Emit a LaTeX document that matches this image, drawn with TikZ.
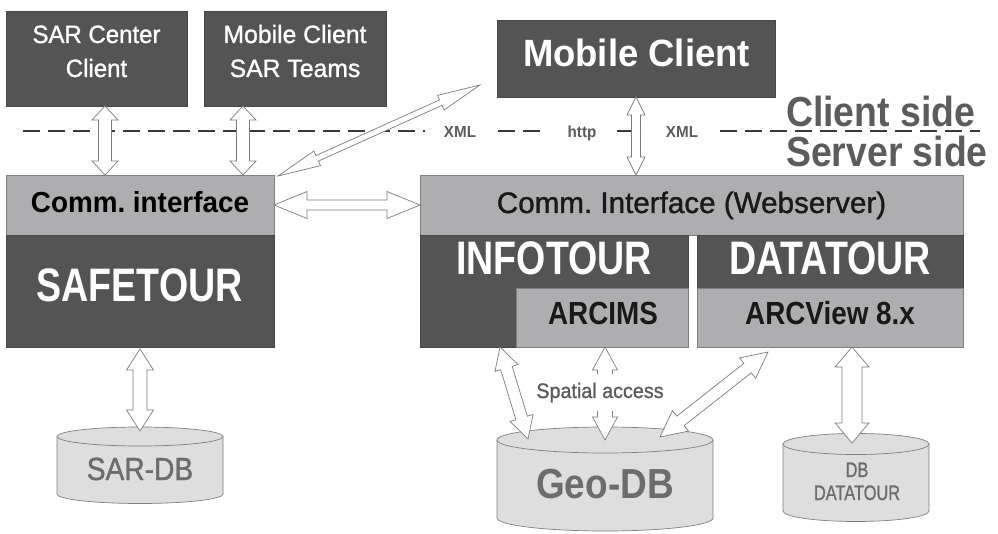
\documentclass[tikz,border=0pt]{standalone}
\usepackage{fontspec}
\setmainfont{Liberation Sans}
\newfontfamily\medium[FakeBold=1.2]{Liberation Sans}
\usepackage{graphicx}
\usetikzlibrary{calc}
\frenchspacing
\definecolor{dk}{HTML}{545454}
\definecolor{lt}{HTML}{AEAEB0}
\definecolor{cylf}{HTML}{DEDEDE}
\definecolor{cyld}{HTML}{808080}
\definecolor{arr}{HTML}{7C7C7C}
\definecolor{gtxt}{HTML}{5C5C5C}
\definecolor{dbtxt}{HTML}{6C6C6C}
\newcommand\fs[1]{\fontsize{#1}{#1}\selectfont}
\newcommand\sx[2]{\scalebox{#1}[1]{#2}}
% hollow double arrow: from, to, half shaft, half head, head length
\newcommand\dbl[5]{%
  \draw[hollow] (#1) -- ($(#1)!#5!(#2)!#4!90:(#2)$) -- ($(#1)!#5!(#2)!#3!90:(#2)$)
    -- ($(#2)!#5!(#1)!#3!-90:(#1)$) -- ($(#2)!#5!(#1)!#4!-90:(#1)$) -- (#2)
    -- ($(#2)!#5!(#1)!#4!90:(#1)$) -- ($(#2)!#5!(#1)!#3!90:(#1)$)
    -- ($(#1)!#5!(#2)!#3!-90:(#2)$) -- ($(#1)!#5!(#2)!#4!-90:(#2)$) -- cycle;}
% cylinder: name, xl, xr, ytop, ry, ybot, rx
\newcommand\cyl[7]{%
  \filldraw[cylst] (#2,#4) -- (#2,#6) arc[start angle=180,end angle=360,x radius=#7pt,y radius=#5pt]
    -- (#3,#4) arc[start angle=0,end angle=180,x radius=#7pt,y radius=#5pt] -- cycle;
  \draw[cylst,fill=none] (#2,#4) arc[start angle=180,end angle=360,x radius=#7pt,y radius=#5pt];
  \coordinate (#1) at ({(#2+#3)/2},#4);}
\tikzset{
  dkbox/.style={fill=dk, draw=dk!85!black, line width=0.5pt, inner sep=0pt, anchor=north west},
  ltbox/.style={fill=lt, draw=gray, line width=0.5pt, inner sep=0pt, anchor=north west},
  lbl/.style={inner sep=0pt, anchor=base},
  hollow/.style={draw=arr, fill=white, line width=0.7pt, line join=miter},
  cylst/.style={draw=cyld, fill=cylf, line width=0.7pt},
  dashline/.style={draw=black!78, line width=2pt, dash pattern=on 17pt off 8pt}
}
\begin{document}
\begin{tikzpicture}[x=1pt,y=-1pt]
\useasboundingbox[fill=white] (0,0) rectangle (998,534);

% client boxes
\node[dkbox, minimum width=181pt, minimum height=95pt] (sarc) at (6,11) {};
\node[dkbox, minimum width=182pt, minimum height=95pt] (mobs) at (204,11) {};
\node[dkbox, minimum width=278pt, minimum height=77pt] (mob) at (497,20) {};

% server boxes
\node[ltbox, minimum width=268pt, minimum height=60pt] (lci) at (6,175) {};
\node[dkbox, minimum width=268pt, minimum height=112pt] (safe) at (6,235) {};
\node[ltbox, minimum width=543pt, minimum height=60pt] (web) at (420,175) {};
\node[dkbox, minimum width=268pt, minimum height=112pt] (info) at (420,235) {};
\node[dkbox, minimum width=266pt, minimum height=53pt] (data) at (697,235) {};
\node[ltbox, minimum width=172pt, minimum height=59pt] (arcims) at (516,288) {};
\node[ltbox, minimum width=266pt, minimum height=59pt] (arcv) at (697,288) {};

% databases
\cyl{sardb}{57}{223}{436.5}{9.5}{494}{83}
\cyl{geodb}{497}{713}{440}{13}{518}{108}
\cyl{dtdb}{783}{929}{444}{10.5}{511}{73}

% client/server divider
\coordinate (d1) at (23,131);  \coordinate (d2) at (425,131);
\coordinate (d3) at (498,131); \coordinate (d4) at (545,131);
\coordinate (d5) at (617,131); \coordinate (d6) at (642,131);
\coordinate (d7) at (720,131); \coordinate (d8) at (980,131);
\draw[dashline] (d1) -- (d2);
\draw[dashline] (d3) -- (d4);
\draw[dashline] (d5) -- (d6);
\draw[dashline] (d7) -- (d8);

% arrow end points
\coordinate (p1a) at (105,106); \coordinate (p1b) at (105,175);
\coordinate (p2a) at (243,106); \coordinate (p2b) at (243,175);
\coordinate (p3a) at (278,176); \coordinate (p3b) at (480,85);
\coordinate (p4a) at (274,205); \coordinate (p4b) at (420,205);
\coordinate (p5a) at (636,97);  \coordinate (p5b) at (636,175);
\coordinate (p6a) at (500,347); \coordinate (p6b) at (528,439);
\coordinate (p7a) at (605,347); \coordinate (p7b) at (605,440);
\coordinate (p8a) at (768,352); \coordinate (p8b) at (660,437);
\coordinate (p9a) at (852,347); \coordinate (p9b) at (852,443);
\coordinate (p10a) at (140,349); \coordinate (p10b) at (140,431);

\dbl{p1a}{p1b}{6.5pt}{13pt}{14pt}
\dbl{p2a}{p2b}{6.5pt}{13pt}{14pt}
\dbl{p3a}{p3b}{3pt}{8pt}{43pt}
\dbl{p4a}{p4b}{5pt}{13.5pt}{33pt}
\dbl{p5a}{p5b}{4.5pt}{9pt}{18pt}
\dbl{p6a}{p6b}{6pt}{12pt}{22pt}
\dbl{p7a}{p7b}{7.5pt}{12.5pt}{23pt}
\dbl{p8a}{p8b}{6pt}{13pt}{26pt}
\dbl{p9a}{p9b}{10pt}{17pt}{20pt}
\dbl{p10a}{p10b}{7pt}{13.5pt}{21pt}

% texts
\node[lbl, text=white, font=\medium\fs{25}] (t1a) at (96.5,43) {\sx{0.96}{SAR Center}};
\node[lbl, text=white, font=\medium\fs{25}] (t1b) at (96.5,77) {\sx{0.96}{Client}};
\node[lbl, text=white, font=\medium\fs{25}] (t2a) at (295,43) {\sx{0.99}{Mobile Client}};
\node[lbl, text=white, font=\medium\fs{25}] (t2b) at (295,77) {\sx{0.99}{SAR Teams}};
\node[lbl, text=white, font=\fs{38}\bfseries] (t3) at (636.5,67) {\sx{0.96}{Mobile Client}};
\node[lbl, anchor=base west, text=gtxt, font=\fs{42}\bfseries] (cs) at (786,127) {\sx{0.89}{Client side}};
\node[lbl, anchor=base west, text=gtxt, font=\fs{42}\bfseries] (ss) at (786,167) {\sx{0.89}{Server side}};
\node[lbl, text=gtxt, font=\fs{16}\bfseries] (x1) at (460,138) {\sx{0.95}{XML}};
\node[lbl, text=gtxt, font=\fs{16}\bfseries] (h1) at (582,138) {\sx{0.95}{http}};
\node[lbl, text=gtxt, font=\fs{16}\bfseries] (x2) at (682,138) {\sx{0.95}{XML}};
\node[lbl, text=black, font=\fs{29}\bfseries] (tlci) at (140,213) {\sx{0.96}{Comm. interface}};
\node[lbl, text=black!90, font=\medium\fs{29.6}] (tweb) at (691.5,213) {\sx{1.0}{Comm. Interface (Webserver)}};
\node[lbl, text=white, font=\fs{47}\bfseries] (tsafe) at (139.5,302) {\sx{0.8}{SAFETOUR}};
\node[lbl, text=white, font=\fs{47}\bfseries] (tinfo) at (554,275) {\sx{0.8}{INFOTOUR}};
\node[lbl, text=white, font=\fs{47}\bfseries] (tdata) at (830,275) {\sx{0.8}{DATATOUR}};
\node[lbl, text=black!90, font=\fs{32}\bfseries] (tarcims) at (603,325) {\sx{0.87}{ARCIMS}};
\node[lbl, text=black!90, font=\fs{32}\bfseries] (tarcv) at (830,325) {\sx{0.87}{ARCView 8.x}};
\node[lbl, fill=white, inner xsep=2pt, inner ysep=9pt, text=gtxt, font=\medium\fs{21}] (tsp) at (600,398) {\sx{0.94}{Spatial access}};
\node[lbl, text=dbtxt, font=\medium\fs{32}] (tsar) at (140,480) {\sx{0.88}{SAR-DB}};
\node[lbl, text=dbtxt, font=\fs{42}\bfseries] (tgeo) at (605,498) {\sx{0.88}{Geo-DB}};
\node[lbl, text=dbtxt, font=\medium\fs{21}] (tdb1) at (857,477) {\sx{0.78}{DB}};
\node[lbl, text=dbtxt, font=\medium\fs{21}] (tdb2) at (857,500) {\sx{0.78}{DATATOUR}};
\end{tikzpicture}
\end{document}
